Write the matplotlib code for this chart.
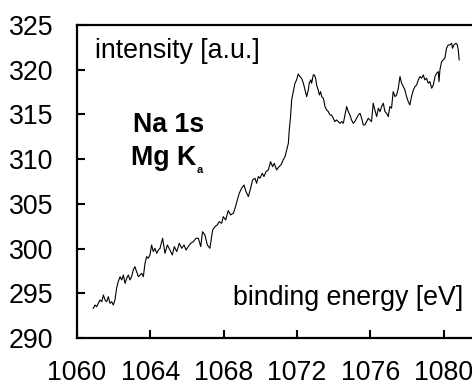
import matplotlib
matplotlib.use("Agg")
import matplotlib.pyplot as plt

plt.rcParams['font.family'] = ['Liberation Sans', 'DejaVu Sans']

energy = [
    1060.89, 1060.98, 1061.07, 1061.16, 1061.25, 1061.35, 1061.44, 1061.53, 1061.62, 1061.71,
    1061.80, 1061.89, 1061.98, 1062.07, 1062.16, 1062.25, 1062.35, 1062.44, 1062.53, 1062.62,
    1062.71, 1062.80, 1062.89, 1062.98, 1063.07, 1063.16, 1063.25, 1063.35, 1063.44, 1063.53,
    1063.62, 1063.71, 1063.80, 1063.89, 1063.98, 1064.07, 1064.16, 1064.25, 1064.35, 1064.44,
    1064.53, 1064.67, 1064.80, 1064.93, 1065.07, 1065.20, 1065.31, 1065.44, 1065.58, 1065.71,
    1065.84, 1065.95, 1066.07, 1066.20, 1066.35, 1066.49, 1066.62, 1066.75, 1066.85, 1066.98,
    1067.11, 1067.25, 1067.40, 1067.53, 1067.65, 1067.76, 1067.89, 1067.98, 1068.11, 1068.25,
    1068.38, 1068.53, 1068.62, 1068.75, 1068.85, 1068.98, 1069.11, 1069.22, 1069.35, 1069.47,
    1069.58, 1069.71, 1069.80, 1069.89, 1069.98, 1070.11, 1070.20, 1070.31, 1070.44, 1070.56,
    1070.67, 1070.76, 1070.89, 1071.02, 1071.13, 1071.25, 1071.35, 1071.44, 1071.53, 1071.58,
    1071.65, 1071.71, 1071.80, 1071.89, 1071.98, 1072.07, 1072.16, 1072.25, 1072.35, 1072.44,
    1072.53, 1072.62, 1072.67, 1072.75, 1072.80, 1072.89, 1072.95, 1073.02, 1073.07, 1073.16,
    1073.22, 1073.29, 1073.35, 1073.44, 1073.53, 1073.62, 1073.71, 1073.80, 1073.89, 1073.98,
    1074.07, 1074.16, 1074.25, 1074.35, 1074.44, 1074.53, 1074.62, 1074.71, 1074.80, 1074.89,
    1074.98, 1075.07, 1075.16, 1075.25, 1075.35, 1075.44, 1075.53, 1075.62, 1075.71, 1075.80,
    1075.89, 1075.98, 1076.07, 1076.16, 1076.25, 1076.35, 1076.44, 1076.53, 1076.62, 1076.71,
    1076.80, 1076.89, 1076.98, 1077.07, 1077.16, 1077.25, 1077.35, 1077.44, 1077.53, 1077.62,
    1077.71, 1077.80, 1077.89, 1077.98, 1078.07, 1078.16, 1078.25, 1078.35, 1078.44, 1078.53,
    1078.62, 1078.71, 1078.80, 1078.89, 1078.98, 1079.07, 1079.16, 1079.25, 1079.35, 1079.44,
    1079.53, 1079.62, 1079.71, 1079.75, 1079.80, 1079.89, 1079.98, 1080.07, 1080.16, 1080.25,
    1080.35, 1080.44, 1080.49, 1080.56, 1080.67, 1080.75, 1080.80, 1080.85,
]

intensity = [
    293.32, 293.69, 293.50, 293.88, 294.25, 294.06, 294.81, 294.25, 294.06, 294.62,
    293.88, 294.06, 293.69, 294.25, 295.56, 296.30, 296.86, 296.49, 297.05, 296.11,
    296.67, 297.05, 296.49, 296.86, 297.61, 297.98, 297.42, 296.86, 297.05, 297.23,
    296.86, 298.35, 299.10, 298.91, 299.28, 300.40, 299.66, 300.03, 299.47, 299.84,
    300.03, 301.15, 299.47, 300.40, 299.84, 299.28, 300.22, 299.66, 300.59, 300.03,
    300.40, 299.84, 300.22, 300.59, 300.78, 301.15, 301.15, 300.22, 301.89, 301.52,
    300.40, 300.03, 302.08, 302.45, 302.64, 303.01, 302.83, 303.57, 303.20, 304.24,
    303.76, 303.95, 304.50, 305.44, 306.18, 306.74, 307.11, 306.37, 305.81, 306.74,
    307.67, 307.86, 307.30, 308.05, 307.86, 308.42, 308.05, 308.61, 308.79, 309.72,
    309.16, 309.54, 308.79, 309.16, 309.35, 309.91, 310.28, 311.03, 311.77, 313.27,
    314.76, 316.62, 317.55, 318.49, 318.86, 319.53, 319.23, 319.05, 318.49, 317.74,
    316.99, 317.74, 318.49, 318.86, 318.49, 319.42, 319.42, 319.05, 318.30, 317.74,
    317.18, 317.55, 316.99, 316.81, 315.88, 315.50, 315.32, 314.94, 314.94, 314.57,
    314.20, 314.38, 314.20, 314.01, 314.20, 314.01, 314.94, 315.88, 315.32, 314.94,
    314.38, 314.01, 314.20, 314.57, 314.94, 315.13, 314.57, 313.83, 313.83, 314.20,
    314.57, 314.38, 314.20, 316.25, 315.50, 314.76, 315.69, 315.32, 315.88, 316.25,
    315.32, 315.13, 314.76, 315.88, 315.69, 317.55, 316.99, 317.18, 317.93, 319.23,
    318.49, 318.11, 317.74, 316.99, 316.44, 316.06, 316.99, 317.74, 318.11, 318.30,
    318.86, 319.23, 319.05, 319.42, 318.86, 319.05, 318.49, 318.67, 317.93, 318.30,
    319.23, 319.60, 319.79, 318.67, 319.98, 320.91, 321.10, 321.28, 322.40, 322.77,
    322.77, 322.96, 322.40, 322.77, 322.96, 322.77, 322.22, 321.10,
]

x_ticks = [1060, 1064, 1068, 1072, 1076, 1080]
y_ticks = [290, 295, 300, 305, 310, 315, 320, 325]

FS = 19.3

W, H = 472, 387
fig = plt.figure(figsize=(W / 100, H / 100), dpi=100)
ax = fig.add_axes([77 / W, (H - 338) / H, (W - 77) / W, 313 / H])

ax.plot(energy, intensity, color='black', linewidth=0.8)

ax.set_xlim(1060, 1081.55)
ax.set_ylim(290, 325)
ax.set_xticks(x_ticks)
ax.set_yticks(y_ticks)

for s in ['left', 'bottom', 'top']:
    ax.spines[s].set_linewidth(1.6)
ax.spines['right'].set_visible(False)

ax.tick_params(axis='both', direction='in', length=6, width=1.5,
               labelsize=FS, colors='black')
ax.tick_params(axis='x', pad=16)
ax.tick_params(axis='y', pad=17)
ax.tick_params(top=False, right=False)

fig.text(95 / W, (H - 58) / H, 'intensity [a.u.]', fontsize=FS, va='baseline', ha='left')
fig.text(133 / W, (H - 132) / H, 'Na 1s', fontsize=FS, fontweight='bold', va='baseline', ha='left')
fig.text(131 / W, (H - 165) / H, 'Mg K', fontsize=FS, fontweight='bold', va='baseline', ha='left')
fig.text(197 / W, (H - 173) / H, 'a', fontsize=8, fontweight='bold', va='baseline', ha='left')
fig.text(233 / W, (H - 305) / H, 'binding energy [eV]', fontsize=FS, va='baseline', ha='left')

fig.savefig('out.png', dpi=100)
